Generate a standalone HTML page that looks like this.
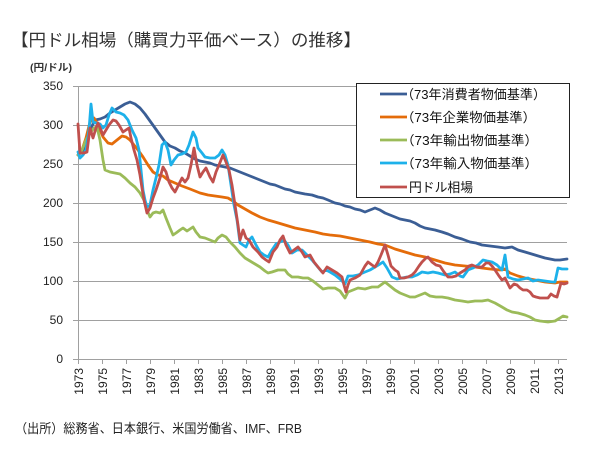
<!DOCTYPE html>
<html><head><meta charset="utf-8"><style>
html,body{margin:0;padding:0;background:#fff;}
svg{display:block;}
text{font-family:"Liberation Sans","Noto Sans CJK JP",sans-serif;}
</style></head><body>
<svg width="600" height="465" viewBox="0 0 600 465" xmlns="http://www.w3.org/2000/svg">
<rect width="600" height="465" fill="#fff"/>
<text x="11" y="46" font-size="17" fill="#333" textLength="350" lengthAdjust="spacingAndGlyphs">【円ドル相場（購買力平価ベース）の推移】</text>
<text x="30" y="71" font-size="10" font-weight="bold" fill="#333" textLength="42" lengthAdjust="spacingAndGlyphs">(円/ドル)</text>
<g stroke="#a0a0a0" stroke-width="1">
<line x1="73" y1="86.5" x2="567" y2="86.5"/>
<line x1="73" y1="125.5" x2="567" y2="125.5"/>
<line x1="73" y1="164.5" x2="567" y2="164.5"/>
<line x1="73" y1="203.5" x2="567" y2="203.5"/>
<line x1="73" y1="242.5" x2="567" y2="242.5"/>
<line x1="73" y1="281.5" x2="567" y2="281.5"/>
<line x1="73" y1="320.5" x2="567" y2="320.5"/>
<line x1="73" y1="359.5" x2="567" y2="359.5"/>
<line x1="78.5" y1="86" x2="78.5" y2="359"/>
</g>
<g stroke="#a0a0a0" stroke-width="1">
<line x1="78.5" y1="359" x2="78.5" y2="364"/><line x1="102.5" y1="359" x2="102.5" y2="364"/><line x1="126.5" y1="359" x2="126.5" y2="364"/><line x1="150.5" y1="359" x2="150.5" y2="364"/><line x1="174.5" y1="359" x2="174.5" y2="364"/><line x1="198.5" y1="359" x2="198.5" y2="364"/><line x1="222.5" y1="359" x2="222.5" y2="364"/><line x1="246.5" y1="359" x2="246.5" y2="364"/><line x1="270.5" y1="359" x2="270.5" y2="364"/><line x1="294.5" y1="359" x2="294.5" y2="364"/><line x1="318.5" y1="359" x2="318.5" y2="364"/><line x1="342.5" y1="359" x2="342.5" y2="364"/><line x1="366.5" y1="359" x2="366.5" y2="364"/><line x1="390.5" y1="359" x2="390.5" y2="364"/><line x1="414.5" y1="359" x2="414.5" y2="364"/><line x1="438.5" y1="359" x2="438.5" y2="364"/><line x1="462.5" y1="359" x2="462.5" y2="364"/><line x1="486.5" y1="359" x2="486.5" y2="364"/><line x1="510.5" y1="359" x2="510.5" y2="364"/><line x1="534.5" y1="359" x2="534.5" y2="364"/><line x1="558.5" y1="359" x2="558.5" y2="364"/>
</g>
<g font-size="12" fill="#222" text-anchor="end">
<text x="63" y="90">350</text>
<text x="63" y="129">300</text>
<text x="63" y="168">250</text>
<text x="63" y="207">200</text>
<text x="63" y="246">150</text>
<text x="63" y="285">100</text>
<text x="63" y="324">50</text>
<text x="63" y="363">0</text>
</g>
<g font-size="12" fill="#222" text-anchor="end">
<text transform="translate(83,368) rotate(-90)">1973</text>
<text transform="translate(107,368) rotate(-90)">1975</text>
<text transform="translate(131,368) rotate(-90)">1977</text>
<text transform="translate(155,368) rotate(-90)">1979</text>
<text transform="translate(179,368) rotate(-90)">1981</text>
<text transform="translate(203,368) rotate(-90)">1983</text>
<text transform="translate(227,368) rotate(-90)">1985</text>
<text transform="translate(251,368) rotate(-90)">1987</text>
<text transform="translate(275,368) rotate(-90)">1989</text>
<text transform="translate(299,368) rotate(-90)">1991</text>
<text transform="translate(323,368) rotate(-90)">1993</text>
<text transform="translate(347,368) rotate(-90)">1995</text>
<text transform="translate(371,368) rotate(-90)">1997</text>
<text transform="translate(395,368) rotate(-90)">1999</text>
<text transform="translate(419,368) rotate(-90)">2001</text>
<text transform="translate(443,368) rotate(-90)">2003</text>
<text transform="translate(467,368) rotate(-90)">2005</text>
<text transform="translate(491,368) rotate(-90)">2007</text>
<text transform="translate(515,368) rotate(-90)">2009</text>
<text transform="translate(539,368) rotate(-90)">2011</text>
<text transform="translate(563,368) rotate(-90)">2013</text>
</g>
<g fill="none" stroke-width="2.8" stroke-linejoin="round" stroke-linecap="round">
<polyline stroke="#3B5E95" points="78,155 82,152 86,147 90,130 95,120 100,119 105,117 110,113 115,110 120,107 125,104 130,102 135,104 140,108 145,114 150,121 155,128 160,135 165,142 170,146 175,148 180,151 185,153 190,156 195,159 200,161 205,162 210,163 215,165 220,166 225,167 230,168 235,170 240,172 245,174 250,176 255,178 260,180 265,182 270,184 275,185 280,187 285,189 290,190 295,192 300,193 305,194 312,195 318,197 323,198 328,200 335,203 340,204 345,206 350,207 355,209 360,210 365,212 370,210 375,208 380,210 385,213 390,215 395,217 400,219 405,220 410,221 415,223 420,226 425,228 430,229 435,230 442,232 448,234 455,237 462,239 470,242 476,243 482,245 490,246 498,247 505,248 512,247 518,250 525,252 535,255 545,258 555,260 560,260 567,259"/>
<polyline stroke="#E46C0A" points="78,155 82,150 86,138 90,122 94,118 98,125 103,137 108,143 112,144 117,140 122,136 126,137 130,140 134,145 138,150 143,157 148,165 153,172 158,175 163,176 168,180 175,183 182,186 190,189 195,191 200,193 208,195 215,196 222,197 228,198 233,201 238,205 245,209 252,213 260,217 268,220 275,222 285,225 295,228 305,230 315,232 323,234 330,235 340,236 350,238 360,240 370,242 378,244 385,245 390,247 395,249 405,252 415,255 425,257 435,260 445,263 455,265 465,266 475,267 482,268 490,269 500,270 505,269 510,273 518,276 525,278 535,280 545,282 555,283 560,282 567,282"/>
<polyline stroke="#9BBB59" points="78,155 82,150 86,140 90,133 94,128 97,127 100,140 103,160 105,170 110,172 115,173 120,174 125,178 130,183 135,187 140,193 144,200 147,210 150,217 153,213 156,212 160,213 163,210 166,218 170,228 173,235 176,233 180,230 183,228 187,231 190,229 193,227 196,232 200,237 205,238 210,240 215,242 218,238 222,235 226,237 230,242 235,247 240,253 245,258 250,261 255,264 260,267 265,271 268,273 272,272 278,270 285,270 288,274 292,277 298,277 303,278 308,278 313,281 318,285 323,289 328,288 335,288 340,291 345,298 348,292 353,290 358,288 365,289 372,287 378,287 385,282 390,286 395,290 400,293 405,295 410,297 415,297 420,295 425,293 430,296 436,297 442,297 448,298 455,300 462,301 468,302 475,301 482,301 488,300 495,303 502,307 507,310 512,312 518,313 525,315 530,317 535,320 540,321 548,322 555,321 560,318 563,316 567,317"/>
<polyline stroke="#1DB1EA" points="78,152 80,158 83,155 86,150 89,130 91,104 93,122 96,123 100,124 103,128 106,125 109,115 112,108 116,112 120,113 124,115 128,120 132,130 136,138 139,150 141,170 143,190 145,200 147,207 150,205 153,190 156,178 159,165 162,145 165,142 168,150 171,165 174,160 178,155 182,154 186,152 189,145 193,132 196,138 198,148 202,153 205,157 210,158 215,158 219,155 222,150 225,155 228,165 231,185 234,205 237,220 240,243 243,245 246,247 249,240 252,237 256,245 260,252 264,255 268,257 272,250 276,244 280,242 284,240 288,245 292,253 297,250 302,250 307,255 312,260 317,266 322,272 326,270 330,272 335,275 340,279 345,284 348,276 353,276 358,275 365,272 370,270 375,267 380,264 383,262 387,268 392,277 397,279 402,278 407,277 412,277 417,275 422,272 428,273 433,272 438,273 445,275 450,274 455,272 460,276 463,277 468,270 473,268 478,265 483,260 487,261 492,262 497,265 502,270 505,255 508,277 513,279 518,280 523,279 528,278 533,281 538,280 545,281 552,282 555,282 558,268 562,269 567,269"/>
<polyline stroke="#C0504D" points="78,124 80,153 84,153 87,152 90,128 93,138 96,128 98,123 101,130 103,135 106,130 109,125 113,120 116,121 119,125 123,132 126,130 129,128 131,138 134,150 137,160 140,175 142,188 144,200 147,213 150,208 153,198 156,190 160,178 163,167 166,172 169,182 172,188 175,192 178,186 182,178 185,182 188,178 191,165 194,148 197,165 200,177 203,172 206,168 210,177 213,182 216,172 219,165 223,155 226,162 229,170 232,185 235,205 238,225 240,240 243,230 246,238 249,240 253,247 258,252 262,257 266,260 269,262 273,252 277,247 280,240 283,236 286,245 290,253 294,250 298,247 302,252 305,257 310,255 314,262 318,267 323,273 327,267 332,270 337,273 342,277 344,285 346,292 348,285 350,280 355,278 360,275 365,266 368,262 372,265 375,267 378,262 381,255 385,245 388,255 391,266 395,270 398,272 400,278 404,278 408,277 412,275 415,272 419,266 422,262 426,258 428,257 432,262 436,265 440,266 444,272 448,277 452,277 456,276 460,273 465,270 469,266 472,265 477,267 482,267 486,263 489,263 492,266 495,270 499,276 502,280 505,278 508,284 510,288 514,284 517,285 520,288 523,290 527,290 530,292 533,296 536,297 540,298 544,298 548,298 551,294 554,296 557,297 559,290 561,283 564,284 567,283"/>
</g>
<rect x="356.5" y="83.5" width="213" height="114" fill="#fff" stroke="#222" stroke-width="1"/>
<g stroke-width="2.8">
<line x1="380" y1="94" x2="407" y2="94" stroke="#3B5E95"/>
<line x1="380" y1="117" x2="407" y2="117" stroke="#E46C0A"/>
<line x1="380" y1="140" x2="407" y2="140" stroke="#9BBB59"/>
<line x1="380" y1="163" x2="407" y2="163" stroke="#1DB1EA"/>
<line x1="380" y1="187" x2="407" y2="187" stroke="#C0504D"/>
</g>
<g font-size="13" fill="#111">
<text x="401" y="99" textLength="145" lengthAdjust="spacingAndGlyphs">（73年消費者物価基準）</text>
<text x="401" y="122" textLength="135" lengthAdjust="spacingAndGlyphs">（73年企業物価基準）</text>
<text x="401" y="145" textLength="137" lengthAdjust="spacingAndGlyphs">（73年輸出物価基準）</text>
<text x="401" y="168" textLength="137" lengthAdjust="spacingAndGlyphs">（73年輸入物価基準）</text>
<text x="409" y="192" textLength="64" lengthAdjust="spacingAndGlyphs">円ドル相場</text>
</g>
<text x="15" y="433" font-size="13" fill="#222" textLength="287" lengthAdjust="spacingAndGlyphs">（出所）総務省、日本銀行、米国労働省、IMF、FRB</text>
</svg>
</body></html>
